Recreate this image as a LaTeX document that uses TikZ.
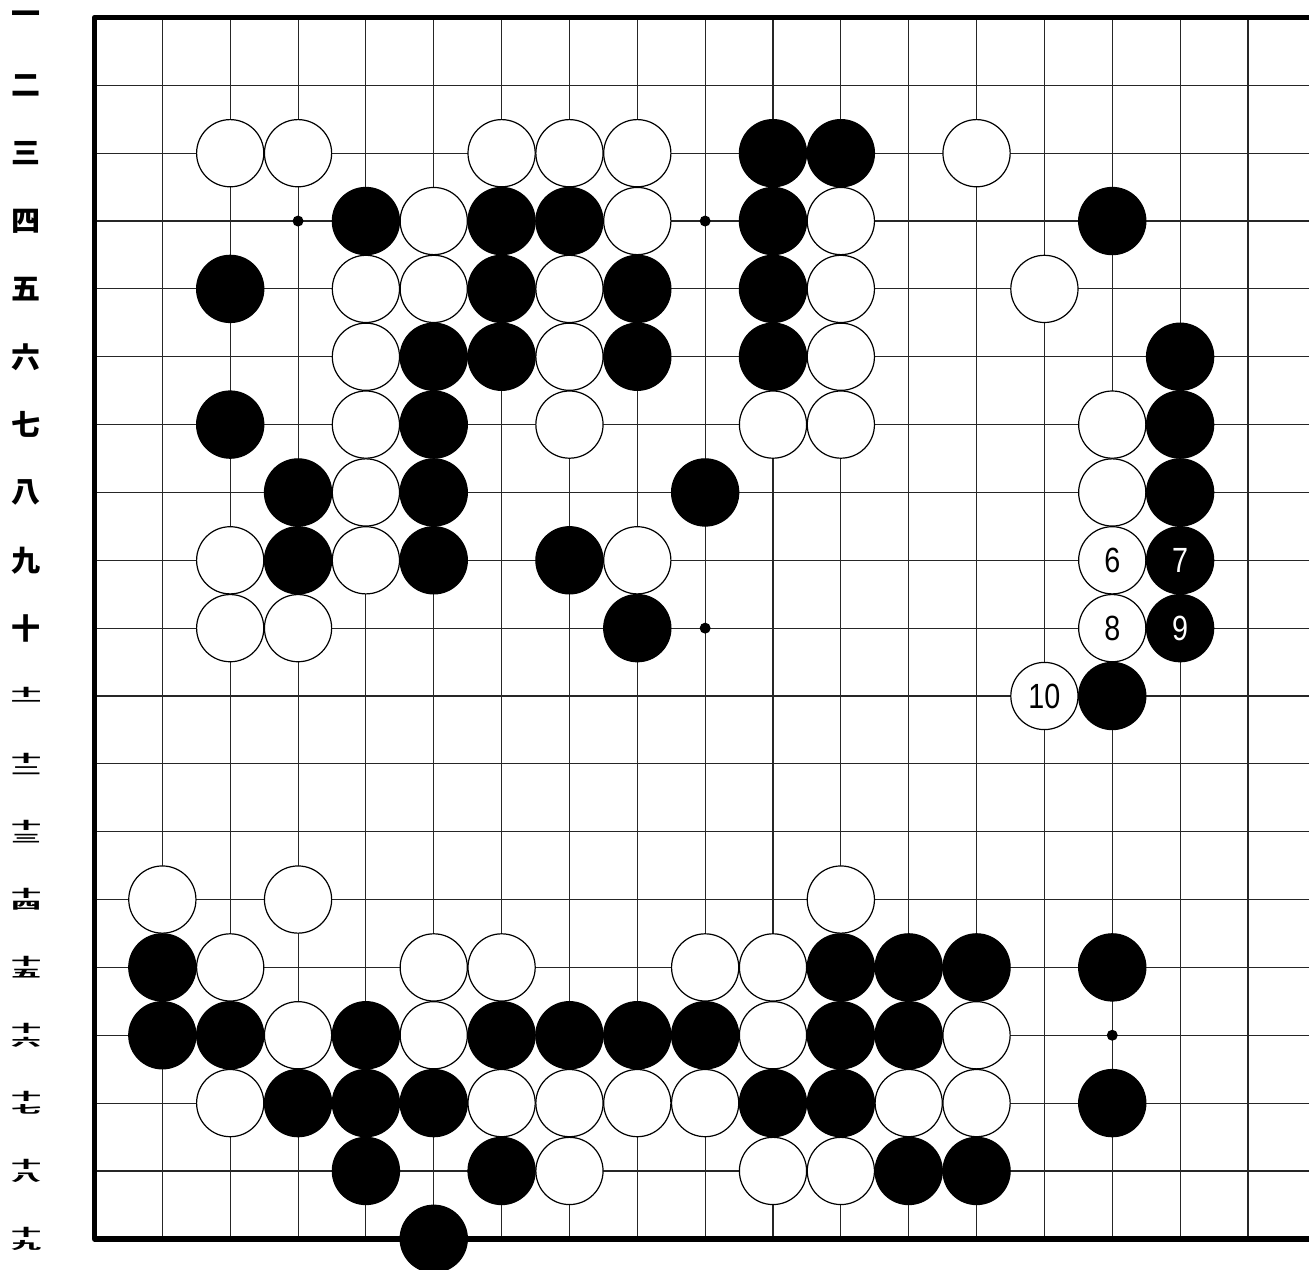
\documentclass[tikz,border=0pt]{standalone}
\usepackage{fontspec}
\usepackage{graphicx}
\newfontfamily\jpfont{Noto Sans CJK JP}
\newfontfamily\numfont[FakeStretch=0.82]{Liberation Sans}
\newcommand{\stk}[1]{\vbox{\offinterlineskip\hbox{\scalebox{1}[0.36]{十}}\kern3pt\hbox{\scalebox{1}[0.36]{#1}}}}
\tikzset{
  gridline/.style={line width=1.1pt, draw=black!85},
  border/.style={line width=5.5pt, line join=round},
  wstone/.style={circle, draw=black, line width=1.2pt, fill=white, minimum size=67.2pt, inner sep=0pt, font=\numfont\fontsize{35}{35}\selectfont, text=black},
  bstone/.style={circle, draw=black, line width=1.2pt, fill=black, minimum size=67.2pt, inner sep=0pt, font=\numfont\fontsize{35}{35}\selectfont, text=white},
  hoshi/.style={circle, fill=black, minimum size=11pt, inner sep=0pt},
  rowlab/.style={font=\jpfont\bfseries\fontsize{29}{29}\selectfont, inner sep=0pt},
  stklab/.style={font=\jpfont\bfseries\fontsize{30}{30}\selectfont, inner sep=0pt}
}
\begin{document}
\begin{tikzpicture}[x=67.85pt, y=-67.85pt]
\useasboundingbox (-1.392778,-0.257922) rectangle (17.8998,18.4598);
\clip (-1.392778,-0.257922) rectangle (17.8998,18.4598);
% grid
\foreach \c in {1,...,17} \draw[gridline] (\c,0) -- (\c,18);
\foreach \r in {1,...,17} \draw[gridline] (0,\r) -- (18,\r);
\draw[border] (18,0) -- (0,0) -- (0,18) -- (18,18);
% hoshi
\foreach \c/\r in {3/3,9/3,9/9,15/15} \node[hoshi] (h-\c-\r) at (\c,\r) {};
% white stones
\foreach \c/\r in {2/2,3/2,6/2,7/2,8/2,13/2,
  5/3,8/3,11/3,
  4/4,5/4,7/4,11/4,14/4,
  4/5,7/5,11/5,
  4/6,7/6,10/6,11/6,15/6,
  4/7,15/7,
  2/8,4/8,8/8,
  2/9,3/9,
  1/13,3/13,11/13,
  2/14,5/14,6/14,9/14,10/14,
  3/15,5/15,10/15,13/15,
  2/16,6/16,7/16,8/16,9/16,12/16,13/16,
  7/17,10/17,11/17}
  \node[wstone] (w-\c-\r) at (\c,\r) {};
% black stones
\foreach \c/\r in {10/2,11/2,
  4/3,6/3,7/3,10/3,15/3,
  2/4,6/4,8/4,10/4,
  5/5,6/5,8/5,10/5,16/5,
  2/6,5/6,16/6,
  3/7,5/7,9/7,16/7,
  3/8,5/8,7/8,
  8/9,
  15/10,
  1/14,11/14,12/14,13/14,15/14,
  1/15,2/15,4/15,6/15,7/15,8/15,9/15,11/15,12/15,
  3/16,4/16,5/16,10/16,11/16,15/16,
  4/17,6/17,12/17,13/17,
  5/18}
  \node[bstone] (b-\c-\r) at (\c,\r) {};
% numbered stones
\node[wstone] (m6) at (15,8) {6};
\node[bstone] (m7) at (16,8) {7};
\node[wstone] (m8) at (15,9) {8};
\node[bstone] (m9) at (16,9) {9};
\node[wstone] (m10) at (14,10) {10};
% row labels
\foreach \r/\t [count=\i] in {0/一,1/二,2/三,3/四,4/五,5/六,6/七,7/八,8/九,9/十}
  \node[rowlab] (lab\i) at (-1.0074,\r) {\t};
\foreach \r/\t [count=\i from 11] in {10/一,11/二,12/三,13/四,14/五,15/六,16/七,17/八,18/九}
  \node[stklab] (lab\i) at (-1.0074,\r) {\stk{\t}};
\end{tikzpicture}
\end{document}
